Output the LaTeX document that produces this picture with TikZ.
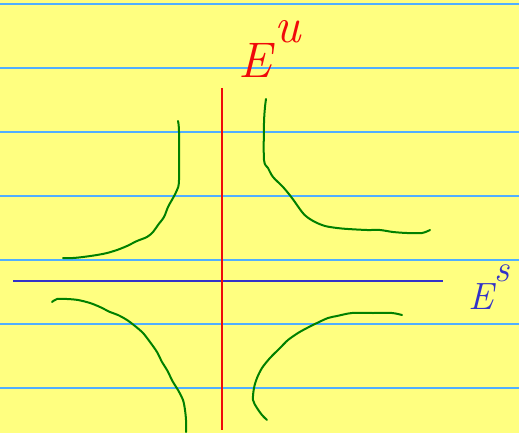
\documentclass[tikz,border=0pt]{standalone}
\usepackage{fontspec}
\definecolor{pad}{RGB}{255,255,128}
\definecolor{rule}{RGB}{80,175,255}
\definecolor{axred}{RGB}{240,10,10}
\definecolor{axblue}{RGB}{50,50,200}
\definecolor{curve}{RGB}{0,128,0}
\begin{document}
\begin{tikzpicture}[x=1pt,y=-1pt,
  ruleline/.style={rule,line width=1.3pt},
  traj/.style={curve,line width=2pt,line cap=round,line join=round},
  lbl/.style={inner sep=0pt,anchor=base west}]
\fill[pad] (0,0) rectangle (519,433);
\useasboundingbox (0,0) rectangle (519,433);
\foreach \y in {4,68,132,196,260,324,388} \draw[ruleline] (0,\y) -- (519,\y);
% axes
\draw[axblue,line width=2.2pt] (13,281) -- (443,281);
\draw[axred,line width=2pt] (222,88) -- (222,430);
% labels
\node[lbl,text=axred,font=\fontsize{50}{50}\selectfont\itshape] (eu) at (238,78) {E\kern3pt\raisebox{35pt}{u}};
\node[lbl,text=axblue,font=\fontsize{38}{38}\selectfont\itshape] (es) at (468,309) {E\kern1pt\raisebox{28pt}{s}};
% trajectories
\draw[traj] plot[smooth,tension=0.5] coordinates {(178,121) (179,132) (179,180) (177,190) (173,198) (168,207) (164,217) (158,225) (153,232) (147,237) (137,241) (127,246) (117,250) (107,253) (97,255) (83,257) (73,258) (63,258)};
\draw[traj] plot[smooth,tension=0.5] coordinates {(266,99) (265,107) (264,123) (264,160) (268,168) (273,177) (283,187) (292,198) (302,212) (307,217) (315,222) (325,226) (337,228) (348,229) (367,230) (380,230) (393,232) (407,233) (422,233) (430,230)};
\draw[traj] plot[smooth,tension=0.5] coordinates {(52,302) (57,299) (67,299) (78,300) (90,303) (100,307) (110,312) (118,315) (127,320) (135,326) (143,333) (150,342) (157,352) (162,362) (167,370) (173,382) (178,390) (183,400) (185,410) (186,420) (186,432)};
\draw[traj] plot[smooth,tension=0.5] coordinates {(402,315) (392,313) (373,313) (352,313) (337,316) (328,318) (317,323) (307,328) (298,333) (288,340) (280,348) (270,358) (262,368) (257,378) (254,388) (253,400) (257,408) (262,415) (267,420)};
\end{tikzpicture}
\end{document}
